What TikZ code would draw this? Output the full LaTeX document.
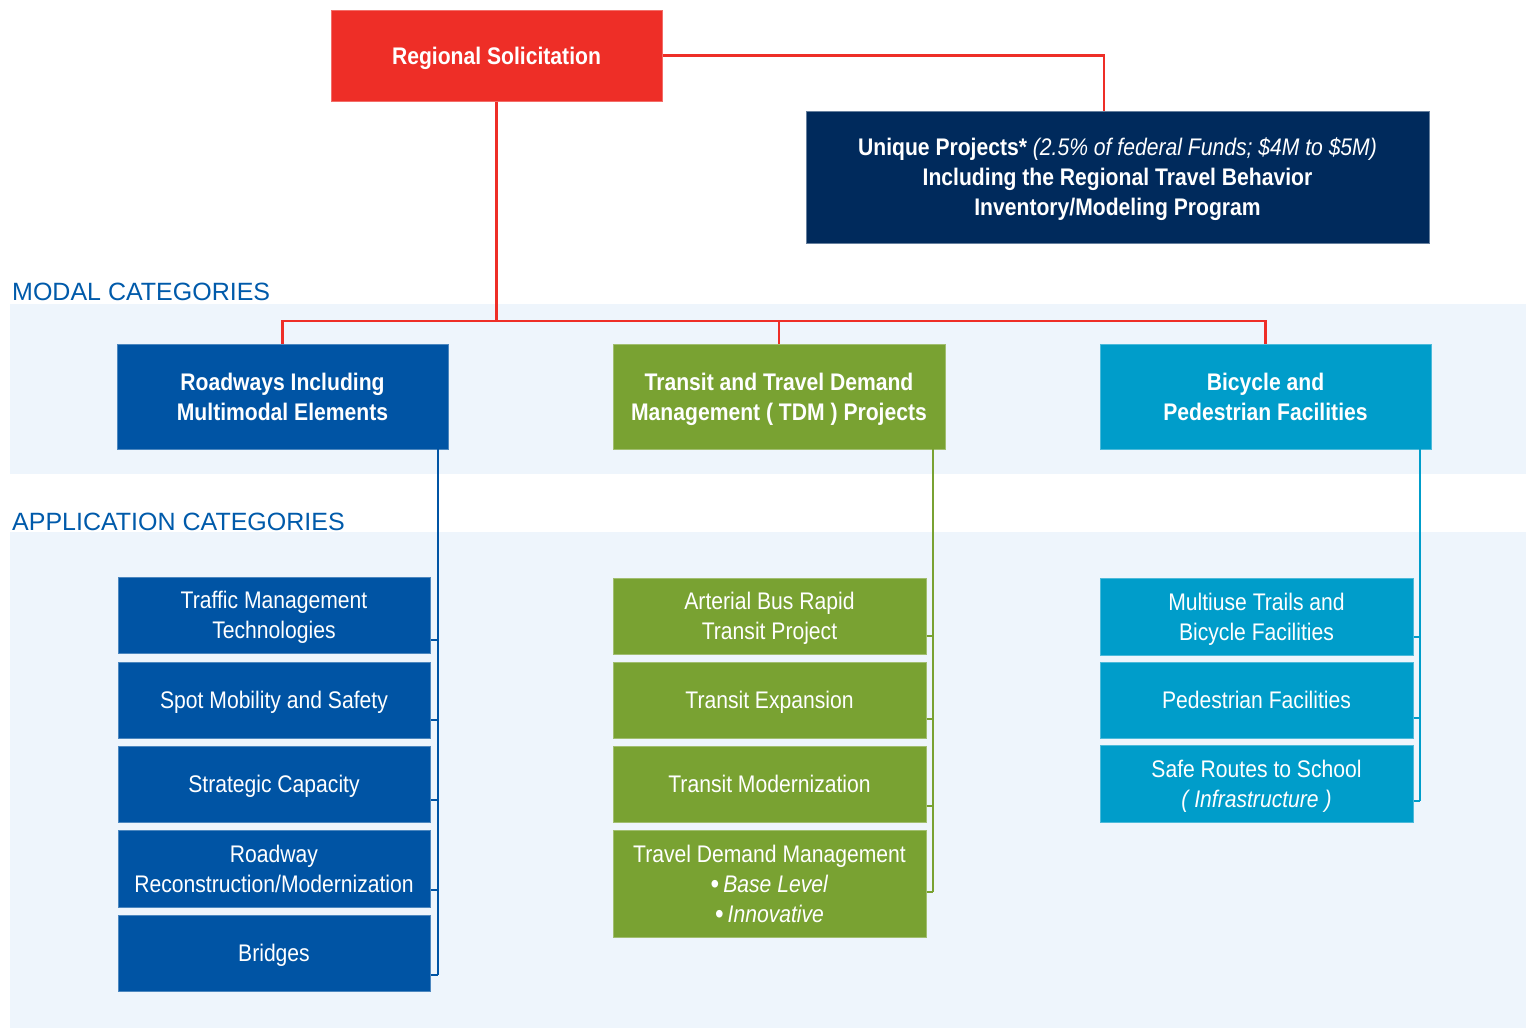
\documentclass[tikz,border=0pt]{standalone}
\usepackage{fontspec}
\setmainfont{Liberation Sans}
\newfontfamily\cond[FakeStretch=0.88]{Liberation Sans}
\definecolor{rsred}{RGB}{238,46,39}
\definecolor{rsnavy}{RGB}{0,42,92}
\definecolor{rsblue}{RGB}{0,84,164}
\definecolor{rsgreen}{RGB}{121,162,50}
\definecolor{rscyan}{RGB}{0,157,202}
\definecolor{rsband}{RGB}{238,245,252}
\definecolor{rshead}{RGB}{0,90,170}
\newcommand{\bigbul}{{\fontsize{28}{30}\selectfont\raisebox{-1pt}{\textbullet}}\,}
\begin{document}
\begin{tikzpicture}[x=1pt,y=-1pt,
  box/.style={rectangle, inner sep=0pt, align=center, text=white, text depth=0pt,
    font=\cond\fontsize{24}{30}\selectfont, line width=1pt},
  bbox/.style={box, font=\cond\bfseries\fontsize{24}{30}\selectfont},
  bluebox/.style={box, fill=rsblue, draw=rsblue!70!white},
  greenbox/.style={box, fill=rsgreen, draw=rsgreen!70!white},
  cyanbox/.style={box, fill=rscyan, draw=rscyan!70!white},
  redline/.style={draw=rsred, line width=2.5pt},
  conn/.style={line width=2pt},
  heading/.style={anchor=base west, inner sep=0pt, text=rshead, font=\fontsize{25}{28}\selectfont}
]
\useasboundingbox (0,0) rectangle (1526,1028);
% bands
\fill[rsband] (10,304) rectangle (1526,474);
\fill[rsband] (10,532) rectangle (1526,1028);
\node[heading] (hmodal) at (12,300) {MODAL CATEGORIES};
\node[heading] (happ) at (12,530) {APPLICATION CATEGORIES};

% top nodes
\node[bbox, fill=rsred, draw=rsred!70!white, minimum width=331, minimum height=91] (reg) at (496.5,55.5) {Regional Solicitation};
\node[bbox, fill=rsnavy, draw=rsnavy!60!white, minimum width=623, minimum height=132] (uniq) at (1117.5,177)
  {Unique Projects* \textmd{\itshape (2.5\% of federal Funds; \$4M to \$5M)}\\Including the Regional Travel Behavior\\Inventory/Modeling Program};

% modal nodes
\node[bbox, fill=rsblue, draw=rsblue!70!white, minimum width=331, minimum height=105] (road) at (282.5,396.5) {Roadways Including\\Multimodal Elements};
\node[bbox, fill=rsgreen, draw=rsgreen!70!white, minimum width=332, minimum height=105] (trans) at (779,396.5) {Transit and Travel Demand\\Management ( TDM ) Projects};
\node[bbox, fill=rscyan, draw=rscyan!70!white, minimum width=331, minimum height=105] (bike) at (1265.5,396.5) {Bicycle and\\Pedestrian Facilities};

% application nodes - roadways
\node[bluebox, minimum width=312, minimum height=76] (b1) at (274,615) {Traffic Management\\Technologies};
\node[bluebox, minimum width=312, minimum height=76] (b2) at (274,700) {Spot Mobility and Safety};
\node[bluebox, minimum width=312, minimum height=76] (b3) at (274,784) {Strategic Capacity};
\node[bluebox, minimum width=312, minimum height=77] (b4) at (274,868.5) {Roadway\\Reconstruction/Modernization};
\node[bluebox, minimum width=312, minimum height=76] (b5) at (274,953) {Bridges};

% application nodes - transit
\node[greenbox, minimum width=313, minimum height=76] (g1) at (769.5,616) {Arterial Bus Rapid\\Transit Project};
\node[greenbox, minimum width=313, minimum height=76] (g2) at (769.5,700) {Transit Expansion};
\node[greenbox, minimum width=313, minimum height=76] (g3) at (769.5,784) {Transit Modernization};
\node[greenbox, minimum width=313, minimum height=107] (g4) at (769.5,883.5) {Travel Demand Management\\\bigbul\textit{Base Level}\\\bigbul\textit{Innovative}};

% application nodes - bike/ped
\node[cyanbox, minimum width=313, minimum height=77] (c1) at (1256.5,616.5) {Multiuse Trails and\\Bicycle Facilities};
\node[cyanbox, minimum width=313, minimum height=76] (c2) at (1256.5,700) {Pedestrian Facilities};
\node[cyanbox, minimum width=313, minimum height=77] (c3) at (1256.5,783.5) {Safe Routes to School\\\textit{( Infrastructure )}};

% red connectors
\coordinate (bus) at (496.5,321);
\draw[redline] (reg.east) -| ([xshift=-13.5pt]uniq.north);
\draw[redline] (reg.south) -- (bus);
\draw[redline] (road.north) |- (bus) -| (bike.north);
\draw[redline] (trans.north) -- (trans.north |- bus);

% roadway tree
\coordinate (rv) at (438,449);
\draw[conn, rsblue] (rv) -- (438,975);
\draw[conn, rsblue] (b1.east |- 0,640) -- (438,640);
\draw[conn, rsblue] (b2.east |- 0,720) -- (438,720);
\draw[conn, rsblue] (b3.east |- 0,800) -- (438,800);
\draw[conn, rsblue] (b4.east |- 0,890) -- (438,890);
\draw[conn, rsblue] (b5.east |- 0,975) -- (438,975);

% transit tree
\coordinate (tv) at (933,449);
\draw[conn, rsgreen] (tv) -- (933,892);
\draw[conn, rsgreen] (g1.east |- 0,636) -- (933,636);
\draw[conn, rsgreen] (g2.east |- 0,719) -- (933,719);
\draw[conn, rsgreen] (g3.east |- 0,806) -- (933,806);
\draw[conn, rsgreen] (g4.east |- 0,892) -- (933,892);

% bike tree
\coordinate (cv) at (1420,449);
\draw[conn, rscyan] (cv) -- (1420,801);
\draw[conn, rscyan] (c1.east |- 0,637) -- (1420,637);
\draw[conn, rscyan] (c2.east |- 0,718) -- (1420,718);
\draw[conn, rscyan] (c3.east |- 0,801) -- (1420,801);
\end{tikzpicture}
\end{document}
